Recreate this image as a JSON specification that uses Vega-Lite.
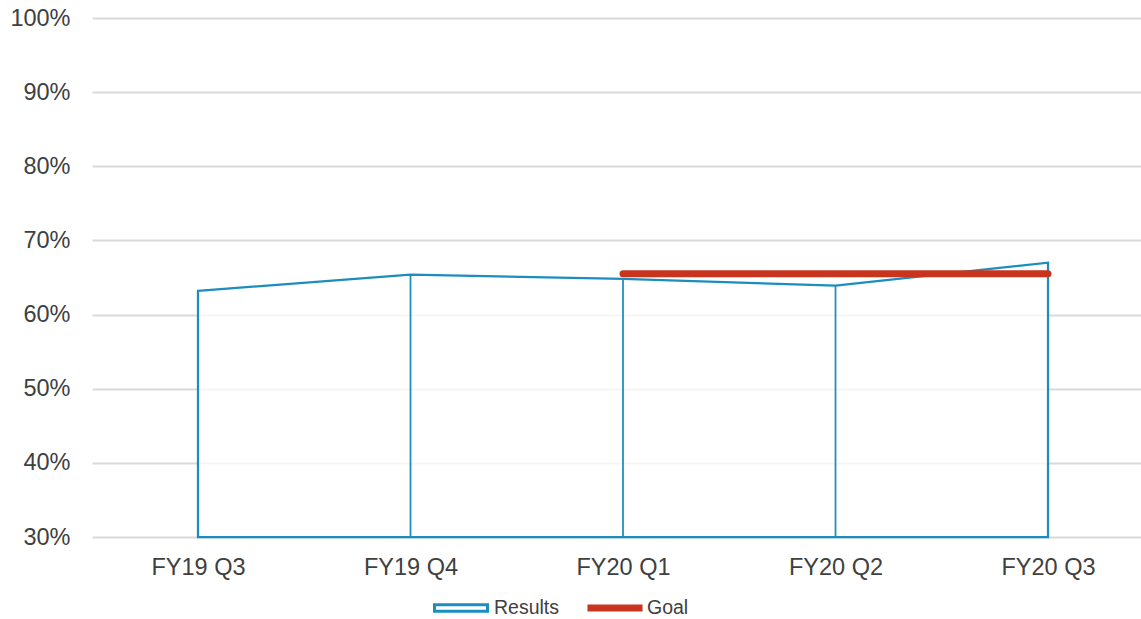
{
  "$schema": "https://vega.github.io/schema/vega-lite/v6.json",
  "width": 1049,
  "height": 519,
  "autosize": {"type": "none"},
  "padding": {"left": 92, "top": 18, "right": 0, "bottom": 82},
  "background": "white",
  "config": {
    "view": {"stroke": null},
    "font": "Liberation Sans",
    "axis": {"labelFont": "Liberation Sans", "labelColor": "#404040"},
    "legend": {"labelFont": "Liberation Sans", "labelColor": "#404040", "labelFontSize": 19.5, "labelOffset": 5, "symbolSize": 2809}
  },
  "data": {
    "values": [
      {"quarter": "FY19 Q3", "results": 0.632, "goal": null},
      {"quarter": "FY19 Q4", "results": 0.654, "goal": null},
      {"quarter": "FY20 Q1", "results": 0.648, "goal": 0.655},
      {"quarter": "FY20 Q2", "results": 0.639, "goal": 0.655},
      {"quarter": "FY20 Q3", "results": 0.670, "goal": 0.655}
    ]
  },
  "encoding": {
    "x": {
      "field": "quarter",
      "type": "nominal",
      "sort": null,
      "scale": {"type": "point", "padding": 0.4682, "align": 0.5327},
      "axis": {
        "title": null,
        "domain": false,
        "ticks": false,
        "grid": false,
        "labelAngle": 0,
        "labelFontSize": 23.5,
        "labelPadding": 18
      }
    }
  },
  "resolve": {"scale": {"stroke": "independent"}, "legend": {"stroke": "independent"}},
  "layer": [
    {
      "mark": {"type": "area", "fill": "white", "fillOpacity": 0.75, "strokeWidth": 2.25, "strokeJoin": "miter"},
      "encoding": {
        "y": {
          "field": "results",
          "type": "quantitative",
          "scale": {"domain": [0.3, 1], "nice": false, "zero": false},
          "axis": {
            "title": null,
            "values": [0.3, 0.4, 0.5, 0.6, 0.7, 0.8, 0.9, 1.0],
            "format": ".0%",
            "domain": false,
            "ticks": false,
            "gridColor": "#d9d9d9",
            "gridWidth": 2,
            "labelFontSize": 23.5,
            "labelPadding": 22
          }
        },
        "y2": {"datum": 0.3},
        "stroke": {
          "datum": "Results",
          "type": "nominal",
          "scale": {"domain": ["Results"], "range": ["#1B8DBE"]},
          "legend": {
            "title": null,
            "orient": "none",
            "direction": "horizontal",
            "legendX": 341,
            "legendY": 562,
            "symbolType": "M-1,-0.12H1V0.12H-1Z",
            "symbolStrokeWidth": 3,
            "symbolFillColor": "white"
          }
        }
      }
    },
    {
      "mark": {"type": "rule", "strokeWidth": 1.75, "color": "#1B8DBE"},
      "encoding": {
        "y": {"field": "results", "type": "quantitative"},
        "y2": {"datum": 0.3}
      }
    },
    {
      "mark": {"type": "line", "strokeWidth": 7, "strokeCap": "round"},
      "encoding": {
        "y": {"field": "goal", "type": "quantitative"},
        "stroke": {
          "datum": "Goal",
          "type": "nominal",
          "scale": {"domain": ["Goal"], "range": ["#C8341E"]},
          "legend": {
            "title": null,
            "orient": "none",
            "direction": "horizontal",
            "legendX": 493,
            "legendY": 560,
            "labelOffset": 2,
            "symbolType": "M-1.04,0H1.04",
            "symbolStrokeWidth": 7
          }
        }
      }
    }
  ]
}
